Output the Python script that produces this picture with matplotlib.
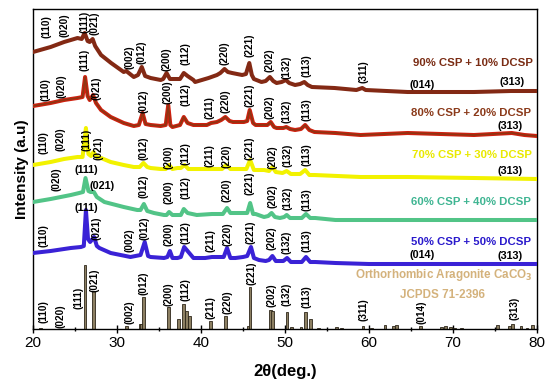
import matplotlib
matplotlib.use("Agg")
import matplotlib.pyplot as plt
from matplotlib.ticker import MultipleLocator

plt.rcParams['font.family'] = ['Liberation Sans', 'DejaVu Sans']

# ---------------- data (2theta in deg, intensity in a.u.) ----------------
tt_90 = [20.0, 22.1, 23.7, 25.3, 25.8, 26.15, 26.5, 26.75, 27.1, 27.4, 28.1, 29.3, 30.8, 31.1, 32.0, 32.5,
         32.95, 33.35, 34.0, 35.2, 35.5, 35.9, 36.3, 36.6, 37.5, 37.95, 38.4, 39.1, 39.3, 40.9, 41.9, 42.3,
         42.8, 43.2, 43.7, 44.9, 45.35, 45.75, 46.05, 46.3, 47.2, 47.7, 48.2, 48.6, 49.0, 49.6, 50.1, 50.5,
         51.2, 51.8, 52.3, 52.7, 53.2, 55.9, 58.5, 59.2, 59.6, 64.6, 72.5, 76.9, 80.0]
I_90 = [277, 282, 287, 291, 290, 296, 288, 287, 290, 283, 274, 266, 257, 258, 252, 254,
        262, 253, 251, 249, 250, 256, 250, 250, 250, 256, 253, 249, 247, 251, 254, 256,
        260, 257, 256, 254, 255, 266, 254, 250, 247, 248, 252, 248, 246, 247, 249, 246,
        244, 245, 247, 244, 242, 241, 239, 241, 239, 237, 237, 238, 238]

tt_80 = [20.0, 22.1, 23.7, 25.3, 25.9, 26.2, 26.5, 26.75, 27.15, 27.5, 28.1, 29.25, 30.8, 32.0, 32.6,
         33.05, 33.4, 34.0, 35.2, 35.8, 36.1, 36.35, 36.6, 37.5, 37.95, 38.4, 39.1, 40.7, 41.2, 41.9,
         42.4, 42.9, 43.4, 43.8, 45.1, 45.5, 45.8, 46.2, 46.5, 47.4, 47.9, 48.3, 48.7, 49.0, 49.8,
         50.15, 50.6, 51.2, 51.9, 52.4, 52.9, 53.5, 56.0, 59.0, 64.6, 72.5, 77.0, 78.5, 80.0]
I_80 = [223, 226, 229, 231, 232, 252, 233, 229, 234, 226, 219, 212, 206, 203, 204,
        216, 205, 204, 203, 204, 224, 204, 202, 204, 212, 206, 204, 204, 206, 207,
        209, 212, 208, 207, 207, 208, 219, 206, 204, 204, 204, 207, 202, 201, 201,
        202, 200, 199, 200, 204, 199, 197, 196, 194, 196, 194, 196, 194, 193]

tt_70 = [20.0, 22.1, 23.7, 25.3, 25.9, 26.3, 26.6, 26.9, 27.2, 27.6, 28.1, 29.25, 30.8, 32.0, 32.7,
         33.15, 33.6, 34.0, 35.2, 35.8, 36.2, 36.6, 37.2, 37.6, 38.05, 38.5, 39.5, 41.1, 42.5, 43.0,
         43.5, 44.5, 45.4, 45.85, 46.3, 47.5, 48.1, 48.5, 48.9, 49.7, 50.2, 50.7, 51.8, 52.4, 52.9,
         53.5, 59.0, 64.6, 72.5, 80.0]
I_70 = [164, 167, 170, 172, 172, 201, 175, 173, 177, 172, 171, 167, 164, 162, 162,
        166, 162, 161, 160, 160, 164, 160, 161, 161, 164, 160, 160, 160, 160, 164,
        160, 160, 160, 169, 159, 159, 158, 162, 157, 156, 158, 155, 155, 159, 154,
        154, 152, 152, 151, 150]

tt_60 = [20.0, 22.1, 24.5, 25.5, 25.95, 26.25, 26.6, 26.85, 27.25, 27.6, 28.5, 30.8, 32.4, 32.8, 33.2,
         33.6, 34.4, 35.6, 35.9, 36.2, 36.6, 37.2, 37.6, 37.95, 38.4, 39.5, 41.3, 42.6, 43.1, 43.5,
         44.5, 45.5, 45.85, 46.2, 46.5, 47.5, 48.0, 48.4, 48.8, 49.4, 49.9, 50.2, 50.6, 51.4, 52.0,
         52.5, 53.0, 53.6, 56.0, 60.0, 80.0]
I_60 = [127, 130, 134, 136, 137, 151, 138, 137, 137, 132, 127, 122, 119, 119, 125,
        118, 116, 114, 114, 117, 114, 114, 114, 120, 116, 114, 115, 115, 121, 116,
        116, 116, 126, 115, 115, 112, 113, 116, 112, 111, 112, 114, 111, 111, 111,
        115, 111, 111, 109, 109, 109]

tt_50 = [20.0, 22.1, 24.5, 25.7, 26.05, 26.3, 26.55, 26.8, 27.27, 27.6, 27.9, 29.25, 31.6, 32.8, 33.3,
         33.7, 34.0, 35.6, 36.0, 36.3, 36.6, 37.2, 37.6, 38.0, 38.5, 39.1, 40.5, 41.3, 42.7, 43.1,
         43.5, 44.1, 45.0, 45.5, 45.95, 46.3, 46.9, 47.7, 48.1, 48.5, 48.9, 49.4, 49.8, 50.25, 50.7,
         51.4, 52.0, 52.5, 53.0, 53.6, 56.0, 60.0, 80.0]
I_50 = [76, 78, 81, 82, 83, 119, 90, 87, 92, 83, 81, 76, 72, 74, 87,
        73, 72, 71, 72, 78, 71, 71, 72, 82, 77, 71, 71, 72, 72, 81,
        71, 71, 72, 73, 82, 71, 69, 68, 69, 73, 68, 68, 68, 71, 67,
        67, 67, 72, 67, 67, 66, 65, 65]

# JCPDS 71-2396 reference sticks
ref_tt = [20.9, 26.2, 27.2, 31.1, 32.75, 32.95, 33.15, 36.1, 37.3, 37.9, 38.3, 38.6, 41.15, 42.9,
          45.6, 45.85, 48.3, 48.5, 50.25, 50.8, 51.9, 52.45, 53.05, 54.0, 56.1, 56.7, 59.3, 60.3,
          61.9, 62.9, 63.3, 66.1, 68.6, 69.1, 69.7, 70.2, 71.0, 75.3, 76.7, 77.1, 78.1, 78.8, 79.5]
ref_I = [1.5, 64, 38, 3, 5, 5, 32, 22, 10, 25, 18, 13, 8, 13,
         3, 42, 19, 18, 17, 2, 2, 17, 10, 1.5, 2, 1.5, 3.5, 1.5,
         4, 3, 4, 3, 2, 3, 2, 1.5, 1.5, 4, 3, 5, 3, 1.5, 4]

series_names = ["90% CSP + 10% DCSP", "80% CSP + 20% DCSP", "70% CSP + 30% DCSP",
                "60% CSP + 40% DCSP", "50% CSP + 50% DCSP"]
line_colors = ['#832914', '#d0200f', '#f2f200', '#52c487', '#3a22d6']
inner_colors = [None, '#8e3512', None, None, None]
text_colors = ['#7a2c14', '#8b3a1a', '#e9e900', '#3fb592', '#2a1acc']
name_pos = [(72.4, 266), (72.2, 216), (72.2, 174), (72.1, 127), (72.2, 87)]

# (hkl) annotations: (text, 2theta, intensity, rotated)
ann_90 = [("(110)", 21.63, 302, 1), ("(020)", 23.73, 304, 1), ("(111)", 26.19, 307, 1),
          ("(021)", 27.38, 306, 1), ("(002)", 31.46, 272, 1), ("(012)", 32.94, 277, 1),
          ("(200)", 35.92, 270, 1), ("(112)", 38.1, 275, 1), ("(220)", 42.74, 276, 1),
          ("(221)", 45.83, 284, 1), ("(202)", 48.13, 269, 1), ("(132)", 50.2, 262, 1),
          ("(113)", 52.58, 263, 1), ("(311)", 59.32, 257, 1), ("(014)", 66.27, 244, 0),
          ("(313)", 76.99, 247, 0)]
ann_80 = [("(110)", 21.43, 239, 1), ("(020)", 23.42, 243, 1), ("(111)", 26.19, 269, 1),
          ("(021)", 27.58, 241, 1), ("(012)", 33.13, 228, 1), ("(200)", 36.04, 237, 1),
          ("(112)", 38.1, 234, 1), ("(211)", 41.07, 221, 1), ("(220)", 42.86, 228, 1),
          ("(221)", 45.83, 234, 1), ("(202)", 48.13, 222, 1), ("(132)", 50.2, 218, 1),
          ("(113)", 52.58, 219, 1), ("(313)", 76.79, 203, 0)]
ann_70 = [("(110)", 21.23, 186, 1), ("(020)", 23.33, 190, 1), ("(111)", 26.31, 189, 1),
          ("(021)", 27.77, 181, 1), ("(012)", 33.13, 181, 1), ("(200)", 36.11, 172, 1),
          ("(112)", 38.21, 175, 1), ("(211)", 41.07, 173, 1), ("(220)", 43.06, 173, 1),
          ("(221)", 45.75, 181, 1), ("(202)", 48.54, 172, 1), ("(132)", 50.3, 174, 1),
          ("(113)", 52.58, 174, 1), ("(313)", 76.79, 158, 0)]
ann_60 = [("(020)", 22.82, 150, 1), ("(111)", 26.31, 159, 0), ("(021)", 28.21, 143, 0),
          ("(012)", 33.13, 143, 1), ("(200)", 36.11, 137, 1), ("(112)", 38.1, 141, 1),
          ("(220)", 43.06, 139, 1), ("(221)", 45.83, 146, 1), ("(202)", 48.49, 133, 1),
          ("(132)", 50.26, 131, 1), ("(113)", 52.58, 129, 1)]
ann_50 = [("(110)", 21.23, 93, 1), ("(111)", 26.39, 121, 0), ("(021)", 27.58, 101, 1),
          ("(002)", 31.46, 89, 1), ("(012)", 33.33, 101, 1), ("(200)", 36.19, 95, 1),
          ("(112)", 38.18, 96, 1), ("(211)", 41.15, 88, 1), ("(220)", 43.18, 95, 1),
          ("(221)", 45.92, 97, 1), ("(202)", 48.42, 91, 1), ("(132)", 50.2, 87, 1),
          ("(113)", 52.58, 88, 1), ("(014)", 66.27, 74, 0), ("(313)", 76.79, 73, 0)]
ann_ref = [("(110)", 21.23, 17, 1), ("(020)", 23.33, 13, 1), ("(111)", 25.39, 31, 1),
           ("(021)", 27.3, 49, 1), ("(002)", 31.46, 17, 1), ("(012)", 33.13, 46, 1),
           ("(200)", 36.11, 35, 1), ("(112)", 38.18, 39, 1), ("(211)", 41.15, 21, 1),
           ("(220)", 43.18, 27, 1), ("(221)", 46.04, 56, 1), ("(202)", 48.42, 34, 1),
           ("(132)", 50.2, 35, 1), ("(113)", 52.58, 32, 1), ("(311)", 59.32, 19, 1),
           ("(014)", 66.27, 17, 1), ("(313)", 77.3, 21, 1)]

# ---------------- figure ----------------
fig = plt.figure(figsize=(5.5, 3.84), dpi=100)
ax = fig.add_axes([33 / 550, 1 - 329 / 384, 504 / 550, 320 / 384])

curves = [(tt_90, I_90), (tt_80, I_80), (tt_70, I_70), (tt_60, I_60), (tt_50, I_50)]
for (tt, ii), c, ci in zip(curves, line_colors, inner_colors):
    ax.plot(tt, ii, color=c, lw=2.9, solid_joinstyle='round', zorder=3)
    if ci is not None:
        ax.plot(tt, ii, color=ci, lw=1.2, solid_joinstyle='round', zorder=3)

ax.bar(ref_tt, ref_I, width=0.32, bottom=0, color='#8c7f62', edgecolor='#2e271a',
       linewidth=0.6, zorder=2)

for ann in (ann_90, ann_80, ann_70, ann_60, ann_50, ann_ref):
    for txt, x, y, rot in ann:
        ax.text(x, y, txt, rotation=90 if rot else 0, ha='center', va='center',
                fontsize=7.2 if rot else 7.8, fontweight='bold', color='black', zorder=4)

for name, (x, y), c in zip(series_names, name_pos, text_colors):
    ax.text(x, y, name, ha='center', va='center', fontsize=8.2, fontweight='bold',
            color=c, zorder=4)

ax.text(68.85, 54, r"Orthorhombic Aragonite CaCO$_\mathbf{3}$", ha='center', va='center',
        fontsize=8.4, fontweight='bold', color='#d4b27c', zorder=4)
ax.text(68.8, 34, "JCPDS 71-2396", ha='center', va='center', fontsize=8.4,
        fontweight='bold', color='#d4b27c', zorder=4)

ax.set_xlim(20, 80)
ax.set_ylim(0, 320)
ax.set_yticks([])
ax.xaxis.set_major_locator(MultipleLocator(10))
ax.xaxis.set_minor_locator(MultipleLocator(5))
ax.tick_params(axis='x', which='major', direction='inout', length=6, width=1,
               labelsize=11, pad=2)
ax.tick_params(axis='x', which='minor', direction='inout', length=3.5, width=1)
for s in ax.spines.values():
    s.set_linewidth(1.0)

ax.set_xlabel("2θ(deg.)", fontsize=12, fontweight='bold', labelpad=10)
ax.set_ylabel("Intensity (a.u)", fontsize=11, fontweight='bold', labelpad=3)

fig.savefig("out.png", dpi=100)
